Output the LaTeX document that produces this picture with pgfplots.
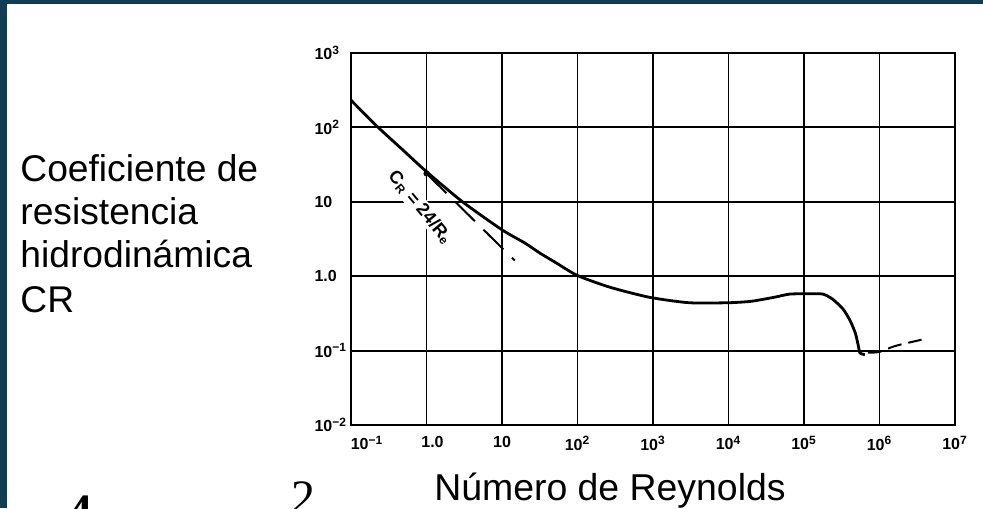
\documentclass[border=0pt]{standalone}
\usepackage{pgfplots}
\pgfplotsset{compat=1.18}
\usepackage{fontspec}
\setmainfont{Liberation Sans}
\newfontfamily\seriffont{Liberation Serif}
\definecolor{frameblue}{RGB}{18,60,84}

\begin{document}
\begin{tikzpicture}
\path[use as bounding box] (0,0) rectangle (491.5pt,254pt);
\clip (0,0) rectangle (491.5pt,254pt);
\fill[white] (0,0) rectangle (491.5pt,254pt);
\fill[frameblue] (0,0) rectangle (3.5pt,254pt);
\fill[frameblue] (0,252pt) rectangle (491.5pt,254pt);

\begin{scope}[every node/.style={inner sep=0pt, anchor=base west, font=\fontsize{18.6}{22}\selectfont}]
\node at (10pt,163pt) {Coeficiente de};
\node at (10pt,141.5pt) {resistencia};
\node at (10pt,120pt) {hidrodinámica};
\node at (10pt,97.5pt) {CR};
\end{scope}
\node[inner sep=0pt, anchor=base, font=\fontsize{18.7}{22}\selectfont] at (305pt,4pt) {Número de Reynolds};
\node[inner sep=0pt, anchor=base west, font=\seriffont\fontsize{24}{26}\selectfont] at (145.5pt,-2.5pt) {2};
\node[inner sep=0pt, anchor=base west, font=\seriffont\bfseries\fontsize{24}{26}\selectfont] at (34pt,-9.5pt) {4};

\begin{axis}[
  at={(175.5pt,41.5pt)}, anchor=south west,
  scale only axis, width=302pt, height=186pt,
  xmode=log, ymode=log,
  xmin=0.1, xmax=1e7, ymin=0.01, ymax=1000,
  xtick={0.1,1,10,100,1000,10000,100000,1000000,10000000},
  xticklabels={\hspace*{16pt}10\textsuperscript{−1},\hspace*{6pt}1.0,10,10\textsuperscript{2},10\textsuperscript{3},10\textsuperscript{4},10\textsuperscript{5},10\textsuperscript{6},10\textsuperscript{7}},
  ytick={0.01,0.1,1,10,100,1000},
  yticklabels={10\textsuperscript{−2},10\textsuperscript{−1},1.0,10,10\textsuperscript{2},10\textsuperscript{3}},
  xminorticks=false, yminorticks=false,
  grid=major,
  major grid style={black, line width=0.9pt},
  axis line style={line width=0.9pt},
  major tick length=0pt,
  tick label style={font=\fontsize{8}{9}\selectfont\bfseries},
  xticklabel style={yshift=-2pt},
  yticklabel style={text width=15pt, align=left, inner sep=0pt, xshift=-3pt},
  clip=false,
]
\addplot[black, line width=1.4pt, smooth, tension=0.4] coordinates {
(0.1,232) (0.22,104) (0.5,48.4) (1,25.4) (3,10) (10,4.2) (20,2.8) (31.6,2.05) (50,1.55) (100,1.02)
(270,0.71) (900,0.52) (3000,0.44) (10000,0.44) (20000,0.46) (40000,0.52)
(65000,0.575) (120000,0.58) (178000,0.575) (240000,0.49) (330000,0.36)
(410000,0.25) (480000,0.17) (530000,0.11) (550000,0.093) (640000,0.088)
};
\addplot[black, line width=1pt, dash pattern=on 14pt off 6pt] coordinates {(1,24) (14.8,1.62)};
\addplot[black, line width=1pt, dash pattern=on 7pt off 3.5pt, smooth] coordinates {
(700000,0.094) (1000000,0.096) (1600000,0.115) (3600000,0.14)};
\addplot[only marks, mark=*, mark size=1.3pt, black] coordinates {(1,24)};
\node[rotate=-50, font=\fontsize{9}{10}\selectfont\bfseries, inner sep=0.8pt, fill=white] at (axis cs:0.83,8.4) {C\textsubscript{R} = 24/R\textsubscript{e}};
\end{axis}
\end{tikzpicture}
\end{document}
